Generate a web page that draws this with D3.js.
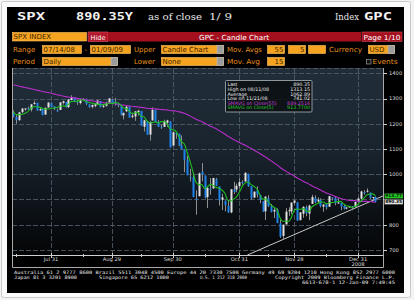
<!DOCTYPE html>
<html lang="en">
<head>
<meta charset="utf-8">
<title>SPX - GPC Candle Chart</title>
<script src="https://d3js.org/d3.v7.min.js"></script>
<style>
  body { margin: 0; background: #f3f3f3; }
  svg { display: block; }
</style>
</head>
<body>
<script>

// trading days shown, 07/14/08 .. 01/09/09
var dates = [
  "07/14/08","07/15/08","07/16/08","07/17/08","07/18/08","07/21/08","07/22/08","07/23/08","07/24/08","07/25/08",
  "07/28/08","07/29/08","07/30/08","07/31/08","08/01/08","08/04/08","08/05/08","08/06/08","08/07/08","08/08/08",
  "08/11/08","08/12/08","08/13/08","08/14/08","08/15/08","08/18/08","08/19/08","08/20/08","08/21/08","08/22/08",
  "08/25/08","08/26/08","08/27/08","08/28/08","08/29/08","09/02/08","09/03/08","09/04/08","09/05/08","09/08/08",
  "09/09/08","09/10/08","09/11/08","09/12/08","09/15/08","09/16/08","09/17/08","09/18/08","09/19/08","09/22/08",
  "09/23/08","09/24/08","09/25/08","09/26/08","09/29/08","09/30/08","10/01/08","10/02/08","10/03/08","10/06/08",
  "10/07/08","10/08/08","10/09/08","10/10/08","10/13/08","10/14/08","10/15/08","10/16/08","10/17/08","10/20/08",
  "10/21/08","10/22/08","10/23/08","10/24/08","10/27/08","10/28/08","10/29/08","10/30/08","10/31/08","11/03/08",
  "11/04/08","11/05/08","11/06/08","11/07/08","11/10/08","11/11/08","11/12/08","11/13/08","11/14/08","11/17/08",
  "11/18/08","11/19/08","11/20/08","11/21/08","11/24/08","11/25/08","11/26/08","11/28/08","12/01/08","12/02/08",
  "12/03/08","12/04/08","12/05/08","12/08/08","12/09/08","12/10/08","12/11/08","12/12/08","12/15/08","12/16/08",
  "12/17/08","12/18/08","12/19/08","12/22/08","12/23/08","12/24/08","12/26/08","12/29/08","12/30/08","12/31/08",
  "01/02/09","01/05/09","01/06/09","01/07/09","01/08/09","01/09/09"
];

var opens = [
  1241.6,1226.8,1214.6,1246.3,1258.2,1261.8,1257.1,1278.9,1283.2,1253.0,
  1257.8,1236.4,1264.5,1281.4,1269.4,1253.3,1254.9,1283.0,1286.5,1266.3,
  1294.4,1304.8,1288.6,1282.1,1293.9,1298.1,1276.7,1267.3,1271.1,1277.6,
  1290.5,1267.0,1271.3,1283.8,1296.5,1287.8,1276.6,1271.8,1233.2,1249.5,
  1267.0,1227.5,1229.0,1245.9,1250.9,1188.3,1210.3,1157.1,1213.1,1255.4,
  1207.6,1188.8,1187.9,1204.5,1209.1,1113.8,1164.2,1160.6,1115.2,1097.6,
  1057.6,988.9,988.4,902.3,912.8,1010.0,994.6,909.5,942.3,943.5,
  980.4,951.7,899.1,895.2,874.3,848.9,939.5,939.4,953.1,968.7,
  971.3,1001.8,952.4,907.4,936.8,917.2,893.4,853.1,904.4,873.2,
  852.3,859.0,805.9,755.8,801.2,853.4,852.9,886.9,888.6,817.9,
  843.6,869.8,844.4,882.7,906.5,892.2,898.4,871.8,881.1,871.5,
  908.2,906.0,887.0,887.2,874.3,863.9,869.5,872.4,870.6,890.6,
  903.0,929.2,931.2,927.5,905.7,909.9
];
var highs = [
  1253.5,1234.4,1245.5,1262.3,1262.2,1267.7,1277.4,1291.2,1283.2,1263.2,
  1260.1,1264.4,1284.3,1284.9,1270.5,1260.5,1284.9,1291.7,1286.5,1297.9,
  1313.2,1304.8,1294.0,1300.1,1302.1,1300.2,1276.7,1276.0,1281.4,1293.6,
  1290.5,1275.5,1288.0,1300.7,1297.6,1303.0,1280.6,1271.8,1244.9,1274.4,
  1268.7,1243.9,1250.0,1255.1,1250.9,1214.8,1210.3,1211.1,1265.1,1255.4,
  1214.5,1197.4,1215.8,1215.8,1209.1,1168.0,1167.0,1160.6,1153.8,1097.6,
  1072.9,1021.1,1005.3,936.4,1006.9,1044.3,994.6,947.7,984.6,985.4,
  985.4,951.7,922.8,896.3,893.8,940.5,970.0,963.2,984.4,975.6,
  1007.5,1001.8,952.4,931.5,952.0,917.2,893.4,913.0,916.9,882.3,
  865.9,864.6,820.5,801.2,865.6,868.9,887.7,896.3,888.6,850.5,
  873.1,875.6,879.4,918.6,916.3,908.3,904.6,883.2,884.6,914.7,
  908.2,911.0,905.5,887.4,880.4,869.8,873.7,873.7,891.1,910.3,
  934.7,936.6,943.9,927.5,910.0,911.9
];
var lows = [
  1225.0,1200.4,1211.4,1241.5,1251.8,1255.7,1248.8,1276.1,1251.5,1251.5,
  1234.4,1236.4,1264.5,1265.7,1254.5,1247.5,1254.9,1276.0,1264.3,1262.1,
  1292.8,1285.6,1274.9,1276.8,1290.7,1274.5,1263.1,1261.2,1265.2,1277.6,
  1264.9,1263.2,1268.0,1283.8,1282.7,1272.2,1265.6,1232.8,1217.2,1247.1,
  1224.5,1221.6,1211.5,1233.8,1192.7,1169.3,1155.9,1133.5,1213.1,1205.6,
  1187.5,1179.8,1187.9,1187.5,1106.4,1113.8,1140.8,1111.4,1098.1,1008.0,
  996.2,971.0,909.2,839.8,912.8,972.1,904.0,865.8,918.7,943.5,
  952.5,875.8,858.4,852.9,846.8,845.3,922.3,928.9,944.6,958.8,
  971.3,949.9,899.7,906.9,907.5,884.9,850.5,818.7,869.9,849.0,
  826.8,806.2,747.8,741.0,801.2,835.0,841.4,881.2,815.7,817.9,
  827.6,833.6,818.4,882.7,885.4,885.5,868.7,851.4,860.0,871.5,
  895.9,877.4,883.0,857.1,860.1,861.4,866.5,857.1,870.6,889.1,
  899.4,919.5,927.3,902.4,896.8,888.3
];
var closes = [
  1228.3,1214.9,1245.4,1260.3,1260.7,1260.0,1277.0,1282.2,1252.5,1257.8,
  1234.4,1263.2,1284.3,1267.4,1260.3,1249.0,1284.9,1289.2,1266.1,1296.3,
  1305.3,1289.6,1285.8,1292.9,1298.2,1278.6,1266.7,1274.5,1277.7,1292.2,
  1266.8,1271.5,1281.7,1300.7,1282.8,1277.6,1275.0,1236.8,1242.3,1267.8,
  1224.5,1232.0,1249.1,1251.7,1192.7,1213.6,1156.4,1206.5,1255.1,1207.1,
  1188.2,1185.9,1209.2,1213.3,1106.4,1166.4,1161.1,1114.3,1099.2,1056.9,
  996.2,984.9,909.9,899.2,1003.4,998.0,907.8,946.4,940.6,985.4,
  955.1,896.8,908.1,876.8,848.9,940.5,930.1,954.1,968.8,966.3,
  1005.8,952.8,904.9,931.0,919.2,899.0,852.3,911.3,873.3,850.8,
  859.1,806.6,752.4,800.0,851.8,857.4,887.7,896.2,816.2,848.8,
  870.7,845.2,876.1,909.7,888.7,899.2,873.6,879.7,868.6,913.2,
  904.4,885.3,887.9,871.6,863.2,868.2,872.8,869.4,890.6,903.3,
  931.8,927.5,934.7,906.7,909.7,890.35
];

// closes before the visible range (04/25/08 .. 07/11/08), for the moving averages
var priorCloses = [
  1397.8,1396.4,1390.9,1385.6,1409.3,1413.9,1407.5,1418.3,1392.6,1397.7,
  1388.3,1403.6,1403.0,1408.7,1423.6,1425.4,1426.6,1413.4,1390.7,1394.4,
  1375.9,1385.4,1390.8,1398.3,1400.4,1385.7,1377.7,1377.2,1404.1,1360.7,
  1361.8,1358.4,1335.5,1339.9,1360.0,1360.1,1350.9,1337.8,1342.8,1317.9,
  1318.0,1314.3,1322.0,1283.2,1278.4,1280.0,1284.9,1261.5,1262.9,1252.3,
  1273.7,1244.7,1253.4,1239.5
];

var yTicks = [700, 800, 900, 1000, 1100, 1200, 1300, 1400];
var monthEnds = ["07/31/08","08/29/08","09/30/08","10/31/08","11/28/08","12/31/08"];
var monthLabels = ["Jul 31","Aug 29","Sep 30","Oct 31","Nov 28","Dec 31"];
var midMonths = ["07/15/08","08/15/08","09/15/08","10/15/08","11/14/08","12/15/08"];

var infoLabels = ["Last","High on 08/11/08","Average","Low on 11/21/08","SMAVG on Close(55)","SMAVG on Close(5)"];
var infoValues = ["890.35","1313.15","1062.89","741.02","889.2516","913.7700"];

// user drawn trend line
var trendDates = ["11/21/08","01/09/09"];
var trendValues = [741.02, 901];

var W = 414, H = 300;
var pL = 12, pR = 383, pT = 68, pB = 255;
var orange = "#f6a31f", labelOrange = "#e8901c", red = "#a5101f";

var svg = d3.select("body").append("svg")
    .attr("width", W)
    .attr("height", H);

var defs = svg.append("defs");
var grad = defs.append("linearGradient")
    .attr("id", "bg").attr("x1", 0).attr("y1", 0).attr("x2", 0).attr("y2", 1);
grad.append("stop").attr("offset", "0").attr("stop-color", "#212e3a");
grad.append("stop").attr("offset", "0.45").attr("stop-color", "#19232d");
grad.append("stop").attr("offset", "0.72").attr("stop-color", "#0e141a");
grad.append("stop").attr("offset", "1").attr("stop-color", "#040506");
defs.append("clipPath").attr("id", "plotclip")
  .append("rect").attr("x", pL).attr("y", pT)
    .attr("width", pR - pL).attr("height", pB - pT);

// outer frame + terminal panel
svg.append("rect").attr("x", 1.5).attr("y", 1.5).attr("width", 409).attr("height", 296)
    .attr("rx", 2).attr("fill", "#fafafa").attr("stroke", "#c9c9c9");
svg.append("rect").attr("x", 7).attr("y", 7).attr("width", 397).attr("height", 286)
    .attr("fill", "#000");

// ---- header ----
var mono = "'DejaVu Sans Mono', monospace";
var sans = "'DejaVu Sans', sans-serif";
var serif = "'DejaVu Serif', serif";

function txt(x, y, s, size, fill, family, len, weight) {
  var t = svg.append("text").attr("x", x).attr("y", y).text(s)
      .attr("font-size", size).attr("fill", fill).attr("font-family", family);
  if (len) t.attr("textLength", len).attr("lengthAdjust", "spacingAndGlyphs");
  if (weight) t.attr("font-weight", weight);
  return t;
}

txt(17, 19.5, "SPX", 10, "#f2f2f2", mono, 28, "bold");
txt(76, 19.5, "890.35Y", 10.5, "#f2f2f2", mono, 57, "bold");
txt(148, 19.5, "as of close", 9.5, "#e8e8e8", serif, 54);
txt(209, 19.5, "1/ 9", 9.5, "#e8e8e8", serif, 23);
txt(335, 19.5, "Index", 9, "#e8e8e8", serif, 24);
txt(364, 19.5, "GPC", 10, "#f2f2f2", mono, 28, "bold");

function box(x, y, w, h, label, anchor, button) {
  svg.append("rect").attr("x", x + 0.5).attr("y", y + 0.5).attr("width", w - 1).attr("height", h - 1)
      .attr("fill", orange).attr("stroke", "#ffc766").attr("stroke-width", 0.6);
  if (button) {
    svg.append("rect").attr("x", x + w - 7).attr("y", y + 0.5).attr("width", 6.5).attr("height", h - 1)
        .attr("fill", "#9c9c9c").attr("stroke", "#c8c8c8").attr("stroke-width", 0.5);
  }
  if (label) {
    var tx = anchor === "end" ? x + w - 1.5 : x + 1.5;
    txt(tx, y + h - 2.2, label, 7, "#3c2500", sans).attr("text-anchor", anchor || "start");
  }
}

// row 2
box(12, 32, 75, 9.5, "SPX INDEX");
svg.append("rect").attr("x", 88).attr("y", 32).attr("width", 20).attr("height", 9.5)
    .attr("fill", "#b3182c").attr("stroke", "#e05566").attr("stroke-width", 0.6);
txt(98, 39.5, "Hide", 6.5, "#fff", sans).attr("text-anchor", "middle");
svg.append("rect").attr("x", 108).attr("y", 32).attr("width", 253).attr("height", 9.5).attr("fill", red);
txt(234, 39.6, "GPC - Candle Chart", 7, "#fff", sans, 70).attr("text-anchor", "middle");
svg.append("rect").attr("x", 362).attr("y", 32).attr("width", 40).attr("height", 9.5)
    .attr("fill", red).attr("stroke", "#d24a57").attr("stroke-width", 0.6);
txt(382, 39.6, "Page 1/10", 7, "#fff", sans, 37).attr("text-anchor", "middle");

// row 3
txt(13, 52, "Range", 7, labelOrange, sans);
box(42, 45, 40, 9, "07/14/08");
txt(84.5, 52, "-", 7, labelOrange, sans);
box(90, 45, 41, 9, "01/09/09");
txt(134, 52, "Upper", 7, labelOrange, sans);
box(161, 45, 63, 9, "Candle Chart", "start", true);
txt(227, 52, "Mov. Avgs", 7, labelOrange, sans, 35);
box(267, 45, 18, 9, "55", "end");
box(288, 45, 18, 9, "5", "end");
box(308, 45, 18, 9, "");
txt(329, 52, "Currency", 7, labelOrange, sans, 33);
box(368, 45, 27, 9, "USD", "start", true);

// row 4
txt(13, 64.3, "Period", 7, labelOrange, sans);
box(42, 57, 76, 9, "Daily", "start", true);
txt(134, 64.3, "Lower", 7, labelOrange, sans);
box(161, 57, 63, 9, "None", "start", true);
txt(227, 64.3, "Mov. Avg", 7, labelOrange, sans, 33);
box(267, 57, 18, 9, "15", "end");
svg.append("rect").attr("x", 366.5).attr("y", 59.5).attr("width", 4.5).attr("height", 4.5)
    .attr("fill", "#111").attr("stroke", "#aaa").attr("stroke-width", 0.6);
txt(372.5, 64.3, "Events", 7, labelOrange, sans, 25);

// ---- chart ----
var x = d3.scaleBand()
    .domain(dates)
    .range([pL, pL + dates.length * 2.896])
    .paddingInner(0.3)
    .paddingOuter(0.15);
function xc(d) { return x(d) + x.bandwidth() / 2; }

var y = d3.scaleLinear()
    .domain([680, 1421])
    .range([pB, pT]);

svg.append("rect").attr("x", pL).attr("y", pT).attr("width", pR - pL).attr("height", pB - pT)
    .attr("fill", "url(#bg)");

// grid
var grid = svg.append("g").attr("stroke", "#56626d").attr("stroke-width", 0.8)
    .attr("stroke-dasharray", "5,2");
grid.selectAll(".h").data(yTicks).enter().append("line")
    .attr("x1", pL).attr("x2", pR)
    .attr("y1", function(d) { return Math.round(y(d)) + 0.5; })
    .attr("y2", function(d) { return Math.round(y(d)) + 0.5; });
grid.selectAll(".v").data(monthEnds).enter().append("line")
    .attr("y1", pT).attr("y2", pB)
    .attr("x1", function(d) { return Math.round(xc(d)) + 0.5; })
    .attr("x2", function(d) { return Math.round(xc(d)) + 0.5; });
grid.append("line").attr("x1", pL).attr("x2", pR).attr("y1", pT + 0.5).attr("y2", pT + 0.5);

// moving averages from the closes
var allCloses = priorCloses.concat(closes);
function sma(n) {
  return closes.map(function(c, i) {
    var k = i + priorCloses.length;
    return d3.mean(allCloses.slice(k - n + 1, k + 1));
  });
}
var sma55 = sma(55), sma5 = sma(5);

var plot = svg.append("g").attr("clip-path", "url(#plotclip)");

// trend line, extended to the plot edges
var i0 = dates.indexOf(trendDates[0]), i1 = dates.indexOf(trendDates[1]);
var slope = (trendValues[1] - trendValues[0]) / (i1 - i0);
var step = x.step();
var iStart = i0 + (y.domain()[0] - trendValues[0]) / slope;
var iEnd = i1 + (pR - xc(trendDates[1])) / step;
plot.append("line")
    .attr("x1", xc(trendDates[0]) + (iStart - i0) * step)
    .attr("y1", y(y.domain()[0]))
    .attr("x2", xc(trendDates[1]) + (iEnd - i1) * step)
    .attr("y2", y(trendValues[1] + (iEnd - i1) * slope))
    .attr("stroke", "#c9c9c9").attr("stroke-width", 1);

var candles = plot.selectAll(".candle").data(dates).enter().append("g");
candles.append("line")
    .attr("x1", function(d) { return Math.round(xc(d)) + 0.5; })
    .attr("x2", function(d) { return Math.round(xc(d)) + 0.5; })
    .attr("y1", function(d, i) { return y(highs[i]); })
    .attr("y2", function(d, i) { return y(lows[i]); })
    .attr("stroke", "#8f8f8f").attr("stroke-width", 1);
candles.append("rect")
    .attr("x", function(d) { return Math.round(xc(d)) - 0.5; })
    .attr("width", 2)
    .attr("y", function(d, i) { return y(Math.max(opens[i], closes[i])); })
    .attr("height", function(d, i) { return Math.max(1, Math.abs(y(opens[i]) - y(closes[i]))); })
    .attr("fill", function(d, i) { return closes[i] >= opens[i] ? "#e4e4e4" : "#1e82ea"; });

var line = d3.line()
    .x(function(d, i) { return xc(dates[i]); })
    .y(function(d) { return y(d); })
    .curve(d3.curveMonotoneX);
plot.append("path").datum(sma55).attr("d", line)
    .attr("fill", "none").attr("stroke", "#b62ec9").attr("stroke-width", 1.1);
plot.append("path").datum(sma5).attr("d", line)
    .attr("fill", "none").attr("stroke", "#1fbf1f").attr("stroke-width", 1.1);

// frame and axes
var frame = svg.append("g").attr("stroke", "#a9a9a9").attr("stroke-width", 1).attr("fill", "none");
frame.append("path").attr("d", "M" + (pL + 0.5) + "," + pT + "V267.5H" + (pR + 0.5) + "V" + pT);
frame.append("line").attr("x1", pL).attr("x2", pR).attr("y1", pB + 0.5).attr("y2", pB + 0.5)
    .attr("stroke", "#cfcfcf");

var xAxis = svg.append("g");
xAxis.selectAll(".maj").data(monthEnds).enter().append("line")
    .attr("x1", function(d) { return Math.round(xc(d)) + 0.5; })
    .attr("x2", function(d) { return Math.round(xc(d)) + 0.5; })
    .attr("y1", pB - 2).attr("y2", pB + 3)
    .attr("stroke", "#d0d0d0");
xAxis.selectAll(".min").data(midMonths).enter().append("line")
    .attr("x1", function(d) { return Math.round(xc(d)) + 0.5; })
    .attr("x2", function(d) { return Math.round(xc(d)) + 0.5; })
    .attr("y1", pB - 1).attr("y2", pB + 2)
    .attr("stroke", "#d0d0d0");
xAxis.selectAll(".lab").data(monthEnds).enter().append("text")
    .attr("x", function(d) { return xc(d); })
    .attr("y", 261)
    .attr("text-anchor", "middle")
    .attr("font-size", 5.2).attr("font-family", sans).attr("fill", "#dcdcdc")
    .text(function(d, i) { return monthLabels[i]; });
txt(xc(monthEnds[5]), 266.3, "2008", 5.2, "#dcdcdc", sans).attr("text-anchor", "middle");

// last value tags sit on the right axis (green one just above the white one)
var lastY = y(closes[closes.length - 1]);
var tagYs = [Math.min(y(sma5[sma5.length - 1]), lastY - 6), lastY];

var yAxis = svg.append("g");
yAxis.selectAll(".t").data(yTicks).enter().append("line")
    .attr("x1", pR).attr("x2", pR + 4)
    .attr("y1", function(d) { return Math.round(y(d)) + 0.5; })
    .attr("y2", function(d) { return Math.round(y(d)) + 0.5; })
    .attr("stroke", "#cfcfcf");
// tick labels hidden under a tag are not drawn
yAxis.selectAll(".l")
    .data(yTicks.filter(function(d) {
      return tagYs.every(function(t) { return Math.abs(y(d) - t) > 6; });
    }))
    .enter().append("text")
    .attr("x", pR + 6)
    .attr("y", function(d) { return y(d) + 1.9; })
    .attr("font-size", 5.2).attr("font-family", sans).attr("fill", "#dcdcdc")
    .text(function(d) { return d; });

function tag(cy, label, fill, textFill) {
  var g = svg.append("g");
  g.append("rect").attr("x", pR + 1.5).attr("y", cy - 2.5).attr("width", 18.5).attr("height", 5)
      .attr("fill", fill).attr("stroke", "#333").attr("stroke-width", 0.4);
  g.append("text").attr("x", pR + 10.7).attr("y", cy + 1.5).attr("text-anchor", "middle")
      .attr("font-size", 4.4).attr("font-family", sans).attr("font-weight", "bold")
      .attr("fill", textFill).text(label);
}
tag(tagYs[0], "913.77", "#22c922", "#062006");
tag(tagYs[1], "890.35", "#e2e2e2", "#111");

// info box
svg.append("rect").attr("x", 225.5).attr("y", 80.5).attr("width", 86.5).attr("height", 31.5)
    .attr("rx", 1).attr("fill", "#0c1015").attr("fill-opacity", 0.92)
    .attr("stroke", "#8d979e").attr("stroke-width", 1);
var infoColors = ["#ececec","#ececec","#ececec","#ececec","#c743dc","#27d027"];
infoLabels.forEach(function(s, i) {
  var yy = 86.3 + i * 4.6;
  txt(227.5, yy, s, 4.8, infoColors[i], sans);
  txt(310, yy, infoValues[i], 4.8, infoColors[i], sans).attr("text-anchor", "end");
});

// footer
txt(14, 273.5, "Australia 61 2 9777 8600 Brazil 5511 3048 4500 Europe 44 20 7330 7500 Germany 49 69 9204 1210 Hong Kong 852 2977 6000",
    4.6, "#e6e6e6", mono, 381);
txt(14, 278.5, "Japan 81 3 3201 8900", 4.6, "#e6e6e6", mono, 63);
txt(99, 278.5, "Singapore 65 6212 1000", 4.6, "#e6e6e6", mono, 70);
txt(200, 278.5, "U.S. 1 212 318 2000", 4.6, "#e6e6e6", mono, 47);
txt(275, 278.5, "Copyright 2009 Bloomberg Finance L.P.", 4.6, "#e6e6e6", mono, 120);
txt(302, 283.5, "6613-678-1 12-Jan-09  7:49:45", 4.6, "#e6e6e6", mono, 93);

</script>
</body>
</html>
